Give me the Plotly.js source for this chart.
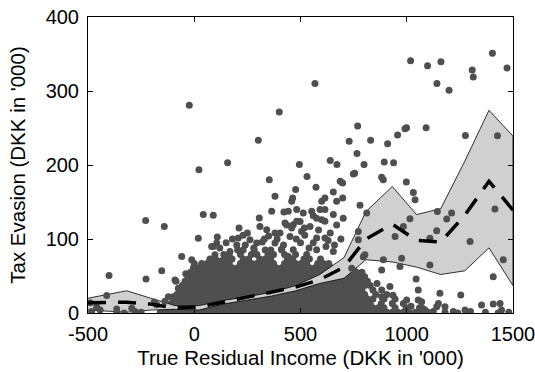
<!DOCTYPE html>
<html>
<head>
<meta charset="utf-8">
<script src="https://cdn.plot.ly/plotly-3.0.1.min.js"></script>
<style>html,body{margin:0;padding:0;background:#fff;}#chart{width:535px;height:372px;}</style>
</head>
<body>
<div id="chart"></div>
<script>
// Band / mean curve nodes (true residual income, DKK '000)
const nodeX = [-500, -318, -205, -91, 23, 136, 250, 364, 477, 591, 705, 808, 932, 1046, 1160, 1273, 1387, 1500];
const bandUpper = [20, 30, 20, 10, 10, 17, 22, 28, 37, 52, 75, 137, 171, 133, 141, 205, 274, 239];
const bandLower = [4, 1, 4, 5, 4, 12, 17, 23, 30, 40, 47, 72, 69, 62, 52, 57, 88, 37];
const meanY = [14, 14.5, 12, 7, 8, 15, 22, 28, 35, 45, 62, 100, 120, 98, 96, 132, 178, 139];

// Dense mass of observations, read row by row (tax evasion level of each row, incomes in the row)
const massRowY = [1, 7, 13, 19, 25, 31, 37, 43, 49, 55, 61, 67, 73, 79, 85];
const massRowX = [
  [-160,-134,-108,-82,-56,-30,-4,22,48,74,100,126,152,178,204,230,256,282,308,334,360,386,412,438,464,490,516,542,568,594,620,646,672,698,724,750,776,802,828,854,880,906,932,958,984,1010,1040,1070,1100],
  [-147,-121,-95,-69,-43,-17,9,35,61,87,113,139,165,191,217,243,269,295,321,347,373,399,425,451,477,503,529,555,581,607,633,659,685,711,737,763,789,815,841,867,893,945,997,1060],
  [-108,-82,-56,-30,-4,22,48,74,100,126,152,178,204,230,256,282,308,334,360,386,412,438,464,490,516,542,568,594,620,646,672,698,724,750,776,802,828,880,932,984],
  [-95,-69,-43,-17,9,35,61,87,113,139,165,191,217,243,269,295,321,347,373,399,425,451,477,503,529,555,581,607,633,659,685,711,737,763,789,815,841,893,945],
  [-82,-56,-30,-4,22,48,74,100,126,152,178,204,230,256,282,308,334,360,386,412,438,464,490,516,542,568,594,620,646,672,698,724,750,776,802,854,906],
  [-69,-43,-17,9,35,61,87,113,139,165,191,217,243,269,295,321,347,373,399,425,451,477,503,529,555,581,607,633,659,685,711,737,763,789,841],
  [-56,-30,-4,22,48,74,100,126,152,178,204,230,256,282,308,334,360,386,412,438,464,490,516,542,568,594,620,646,672,698,724,750,776,802,828],
  [-43,-17,9,35,61,87,113,139,165,191,217,243,269,295,321,347,373,399,425,451,477,503,529,555,581,607,633,659,685,711,737,763,789,815],
  [-30,-4,22,48,74,100,126,152,178,204,230,256,282,308,334,360,386,412,438,464,490,516,542,568,594,620,646,672,698,724,750,776,802],
  [-17,9,35,61,87,113,139,165,191,217,243,269,295,321,347,373,399,425,451,477,503,529,555,581,607,633,659,685,711,737,763,789],
  [-4,22,48,74,100,126,152,178,204,230,256,282,308,334,360,386,412,438,464,490,516,542,568,594,620,646,672,698,724,750],
  [35,61,87,113,139,165,217,243,269,295,321,347,373,425,451,477,503,529,581,607,633],
  [74,100,152,178,230,256,308,334,360,438,464,516,542,594],
  [139,165,217,269,295,347,373,425,477,529],
  [204,230,282,334,360,412]
];

// Observations: medium-density zone above the mass
const midX = [89.6,82,105.6,97.6,129,168,74,-12,0,-59,19,108.5,42.6,89.6,
  207,262,294,380,466,442.6,576,654.5,607,
  210.6,309,341,403.5,450.6,576,615,
  306,427,466,498,458.6,545,600,
  364.5,422,442.6,482,513,552.6,592,615,654.5,560,
  380,463,458.6,615,698.5,600,670,654.5,
  380,435,482,518,576,615,670,701,
  150,240,330,420,500,540,620,520,640,250,180,
  120,200,230,280,320,350,390,410,480,505,560,585,630,660,690];
const midY = [90,90,94.5,78.6,70.5,83,70.5,72,67,76.4,101,102.6,133,132,
  101.3,99,94.5,94.5,85.4,76.4,85.4,83,65,
  114.8,117,112.5,108,103.5,101.3,101.3,
  128.4,121.6,119.3,123.8,114.8,117,126,
  137.4,136.5,137.4,139.7,135,137.4,139.7,139.7,133,131.5,
  157.7,155.5,151,155.5,155.5,151,151,163.6,
  108,119,124,115,128,124,119,128,
  95,92,100,92,95,88,90,105,108,108,100,
  88,92,105,88,96,104,100,86,100,110,95,112,98,92,100];

// Observations: sparse high outliers
const sparseX = [-23.5,22,157,301.5,353,400,568,1018,1098,1161,1142,1199,1308,1313,1403,1472,
  769,729,830,766,910,957,992,999,1091,1276,1427,494.6,640,671.5,799,894,938,530.6,
  748.6,755,698,687,882,889.6,998,573,477,1031,1039,780,811.5,772,772,795.5,803,741];
const sparseY = [280.7,193.5,203,233.6,180,271.6,310,340.8,334,339.6,310,301,328.5,319,351,331,
  252.6,232,233.6,215.6,228.7,240.4,249,250.4,250.4,240,239.6,200.7,206,200.7,200.7,204,203,184.4,
  188,189,175.8,178,183.5,180,177,170,166.8,163,153,145.5,135,110,99,76,78.6,60.6];

// Observations: low-income tail (left) and high-income tail (right)
const leftX = [-490,-459,-483,-443,-412,-401,-365,-365,-294,-279,-228.5,-141,-227,-153,-177,-188,-138,-99,-122,-90.6,-75,-86,-40,-250,-330];
const leftY = [14,8.5,2,4,23.5,50.6,5.4,0,6.4,2,125,117,46,57,11,15,16,22,22,44.7,33.5,43,53,1,0];
const rightX = [1015,984,945,976,968,890,882,1109,1109,1141,1144,1188,1211,1298,1415,1454,1407,1044,921,882,882,1054,1054,999.5,1070,1156,1254,1141,1149,1180,1274,1352,1407,1439,1446,1086,1219,1125,803.5,1180,1240,1300,1370,1430,1480,1020,1075,935,860];
const rightY = [127.5,117,103.5,74,63,72,58,65,101,111,137,127,135,96.7,140.6,72,49,46,35.7,22,31,31,17.6,17.6,15.3,26.7,24.4,8.5,13,8.5,4,10.8,12,13,4,4,2,2,42.5,1,0,2,1,0,1,9,6,24,40];

const xTicks = [-500, 0, 500, 1000, 1500];
const yTicks = [0, 100, 200, 300, 400];

const massX = [], massY = [];
massRowX.forEach((row, i) => row.forEach(v => { massX.push(v); massY.push(massRowY[i]); }));

const obsX = [].concat(midX, sparseX, leftX, rightX);
const obsY = [].concat(midY, sparseY, leftY, rightY);

const bandX = nodeX.concat(nodeX.slice().reverse());
const bandY = bandUpper.concat(bandLower.slice().reverse());

const tickFont = {family: 'Liberation Sans, Arial, sans-serif', size: 20, color: '#000'};
const titleFont = {family: 'Liberation Sans, Arial, sans-serif', size: 20.5, color: '#000'};
const dotStyle = {color: '#4f4f4f', size: 7};

const traces = [
  {x: massX, y: massY, type: 'scatter', mode: 'markers', marker: dotStyle, showlegend: false},
  {x: bandX, y: bandY, type: 'scatter', mode: 'lines', fill: 'toself',
   fillcolor: '#d0d0d0', line: {color: '#000', width: 0.8}, hoverinfo: 'skip', showlegend: false},
  {x: obsX, y: obsY, type: 'scatter', mode: 'markers', marker: dotStyle, showlegend: false},
  {x: nodeX, y: meanY, type: 'scatter', mode: 'lines',
   line: {color: '#000', width: 3.5, dash: '18px,12px'}, showlegend: false}
];

const axisCommon = {
  showgrid: false, zeroline: false, showline: true, linecolor: '#000', linewidth: 1,
  mirror: 'ticks', ticks: 'inside', ticklen: 5, tickcolor: '#000', tickwidth: 1,
  tickfont: tickFont, ticklabeloverflow: 'allow'
};

const layout = {
  width: 535, height: 372,
  margin: {l: 88, r: 22, t: 17, b: 59},
  paper_bgcolor: '#fff', plot_bgcolor: '#fff',
  showlegend: false,
  xaxis: Object.assign({}, axisCommon, {
    range: [-500, 1500], tickvals: xTicks, ticktext: xTicks.map(String), ticklabelstandoff: 3,
    title: {text: "True Residual Income (DKK in '000)", font: titleFont, standoff: 6}
  }),
  yaxis: Object.assign({}, axisCommon, {
    range: [0, 400], tickvals: yTicks, ticktext: yTicks.map(String), ticklabelstandoff: 4,
    title: {text: "Tax Evasion (DKK in '000)", font: titleFont, standoff: 14}
  })
};

Plotly.newPlot('chart', traces, layout, {displayModeBar: false, staticPlot: true});
</script>
</body>
</html>
